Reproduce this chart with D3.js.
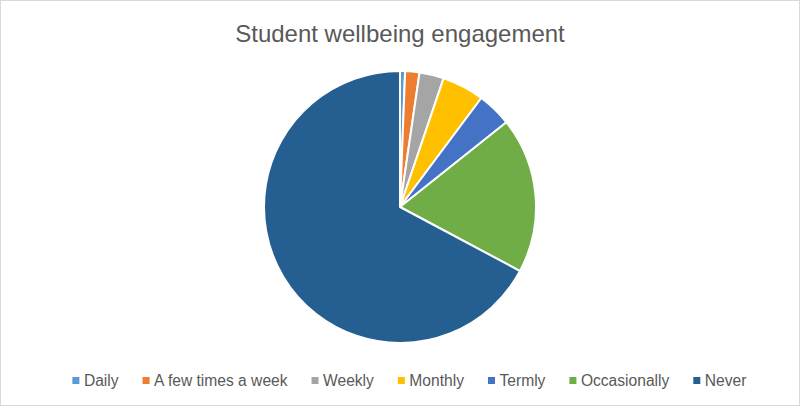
<!DOCTYPE html>
<html><head><meta charset="utf-8">
<script src="https://cdn.jsdelivr.net/npm/d3@7/dist/d3.min.js"></script>
<style>body{margin:0;background:#fff;}svg{display:block;}</style>
</head><body>
<svg id="c" width="800" height="408"></svg>
<script>
const categories = ["Daily","A few times a week","Weekly","Monthly","Termly","Occasionally","Never"];
const values = [0.6, 1.7, 2.9, 5.0, 4.1, 18.5, 67.2];
const colors = ["#5b9bd5","#ed7d31","#a5a5a5","#ffc000","#4472c4","#70ad47","#255e91"];
const title = "Student wellbeing engagement";

const svg = d3.select("#c");
svg.append("rect").attr("x",0.5).attr("y",0.5).attr("width",799).attr("height",405)
  .attr("fill","#fff").attr("stroke","#d9d9d9").attr("stroke-width",1);

const font = "'Liberation Sans', Arial, sans-serif";
svg.append("text").attr("x",400).attr("y",42).attr("text-anchor","middle")
  .attr("font-family",font).attr("font-size",24).attr("fill","#595959").text(title);

const data = categories.map((c,i)=>({c, v:values[i]}));
const pie = d3.pie().value(d=>d.v).sort(null);
const arc = d3.arc().innerRadius(0).outerRadius(136);
const color = d3.scaleOrdinal().domain(categories).range(colors);
const g = svg.append("g").attr("transform","translate(400,207)");
g.selectAll("path").data(pie(data)).join("path")
  .attr("d",arc).attr("fill",d=>color(d.data.c))
  .attr("stroke","#fff").attr("stroke-width",2).attr("stroke-linejoin","round");

// legend
const lg = svg.append("g");
const items = lg.selectAll("g").data(categories).join("g");
items.append("rect").attr("width",7).attr("height",7).attr("y",-3.5).attr("fill",d=>color(d));
const texts = items.append("text").attr("x",11.5).attr("y",5)
  .attr("font-family",font).attr("font-size",14).attr("fill","#595959").text(d=>d);
let sum = 0;
texts.each(function(){ sum += this.getComputedTextLength(); });
const fs = 14 * 450 / sum;
texts.attr("font-size", Math.min(fs, 16));
let x = 0; const gap = 24;
const pos = [];
texts.each(function(){ const w=this.getComputedTextLength(); pos.push(x); x += 11.5 + w + gap; });
const total = x - gap;
const start = 409.4 - total/2;
items.attr("transform",(d,i)=>`translate(${start+pos[i]},380.5)`);
</script>
</body></html>
